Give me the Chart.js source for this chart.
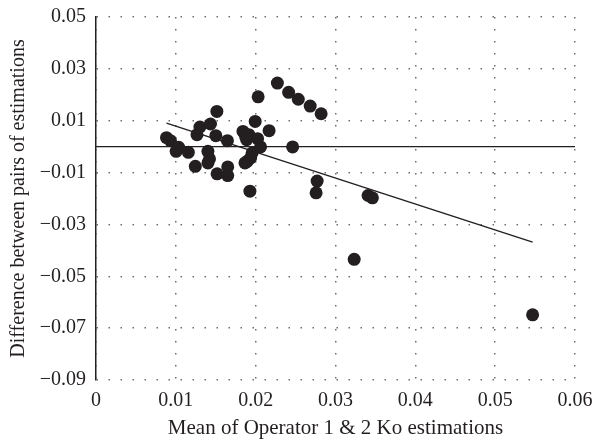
<!DOCTYPE html>
<html>
<head>
<meta charset="utf-8">
<script src="https://cdn.jsdelivr.net/npm/chart.js@4"></script>
<style>
  html, body { margin: 0; padding: 0; background: #fff; }
  #wrap { width: 593px; height: 441px; }
</style>
</head>
<body>
<div id="wrap"><canvas id="chart" width="593" height="441"></canvas></div>
<script>
// Mean of the two estimations (x) and their difference (y)
const meanValues = [
    0.00883, 0.00933, 0.01004, 0.01036, 0.01157, 0.01244, 0.01265, 0.01302,
    0.01434, 0.01514, 0.01501, 0.01402, 0.01422, 0.01402, 0.01517, 0.01650,
    0.01650, 0.01646, 0.01841, 0.01874, 0.01915, 0.01887, 0.01994, 0.02024,
    0.02061, 0.01956, 0.01937, 0.01894, 0.01866, 0.01928, 0.02031, 0.02272,
    0.02413, 0.02534, 0.02683, 0.02820, 0.02168, 0.02463, 0.02770, 0.02757,
    0.03408, 0.03462, 0.03234, 0.05469
];
const diffValues = [
    0.00346, 0.00231, -0.00181, -0.00027, -0.00219, -0.00758, 0.00462, 0.00758,
    0.00873, 0.01358, 0.00423, -0.00181, -0.00473, -0.00627, -0.01050, -0.00781,
    -0.01115, 0.00231, 0.00588, 0.00396, 0.00462, 0.00269, 0.00973, 0.00308,
    -0.00012, -0.00242, -0.00435, -0.00565, -0.00627, -0.01719, 0.01923, 0.02450,
    0.02096, 0.01827, 0.01565, 0.01269, 0.00615, -0.00012, -0.01327, -0.01781,
    -0.01885, -0.01973, -0.04346, -0.06488
];

// Mean difference line and regression line end points
const meanLineX = [0, 0.06];
const meanLineY = [0, 0];
const trendX = [0.00883, 0.05469];
const trendY = [0.0091, -0.0368];

const xTicks = [0, 0.01, 0.02, 0.03, 0.04, 0.05, 0.06];
const yTicks = [-0.09, -0.07, -0.05, -0.03, -0.01, 0.01, 0.03, 0.05];

const serif = "'Liberation Serif', 'Times New Roman', serif";
const ink = '#231f20';

function fmt(v) {
    if (Math.abs(v) < 1e-9) return '0';
    const s = v.toFixed(2);
    return s.replace('-', '\u2212');
}

// no extra room for overhanging tick labels, layout padding decides the plot box
function noOverhang(s) {
    s.paddingTop = 0;
    s.paddingBottom = 0;
    s.paddingLeft = 0;
    s.paddingRight = 0;
}

const points = meanValues.map((x, i) => ({ x, y: diffValues[i] }));
const meanLine = meanLineX.map((x, i) => ({ x, y: meanLineY[i] }));
const trendLine = trendX.map((x, i) => ({ x, y: trendY[i] }));

const gridOpts = {
    color: '#6d6d6d',
    lineWidth: 1.5,
    drawTicks: false
};

new Chart(document.getElementById('chart').getContext('2d'), {
    type: 'scatter',
    data: {
        datasets: [
            {
                data: points,
                backgroundColor: ink,
                borderColor: ink,
                pointRadius: 6.5,
                pointHoverRadius: 6.5,
                borderWidth: 0,
                order: 1
            },
            {
                type: 'line',
                data: meanLine,
                borderColor: ink,
                borderWidth: 1.4,
                pointRadius: 0,
                fill: false,
                order: 2
            },
            {
                type: 'line',
                data: trendLine,
                borderColor: ink,
                borderWidth: 1.4,
                pointRadius: 0,
                fill: false,
                order: 2
            }
        ]
    },
    options: {
        responsive: false,
        animation: false,
        layout: { padding: { top: 17, right: 18, bottom: 0, left: 0 } },
        plugins: {
            legend: { display: false },
            tooltip: { enabled: false }
        },
        scales: {
            x: {
                type: 'linear',
                min: 0,
                max: 0.06,
                afterFit: s => { s.height = 61; noOverhang(s); },
                afterBuildTicks: s => { s.ticks = xTicks.map(v => ({ value: v })); },
                ticks: {
                    padding: 9,
                    color: ink,
                    font: { family: serif, size: 20 },
                    maxRotation: 0,
                    callback: v => fmt(v)
                },
                grid: gridOpts,
                border: { display: false, dash: [1.5, 10.5] },
                title: {
                    display: true,
                    text: 'Mean of Operator 1 & 2 Ko estimations',
                    color: ink,
                    font: { family: serif, size: 21 },
                    padding: { top: 0, bottom: 0 }
                }
            },
            y: {
                type: 'linear',
                min: -0.09,
                max: 0.05,
                afterFit: s => { s.width = 96; noOverhang(s); },
                afterBuildTicks: s => { s.ticks = yTicks.map(v => ({ value: v })); },
                ticks: {
                    padding: 10,
                    color: ink,
                    font: { family: serif, size: 20 },
                    callback: v => fmt(v)
                },
                grid: gridOpts,
                border: { display: true, color: ink, width: 1.5, dash: [1.5, 10.5] },
                title: {
                    display: true,
                    text: 'Difference between pairs of estimations',
                    color: ink,
                    font: { family: serif, size: 20 },
                    padding: { top: 7, bottom: 0 }
                }
            }
        }
    }
});
</script>
</body>
</html>
